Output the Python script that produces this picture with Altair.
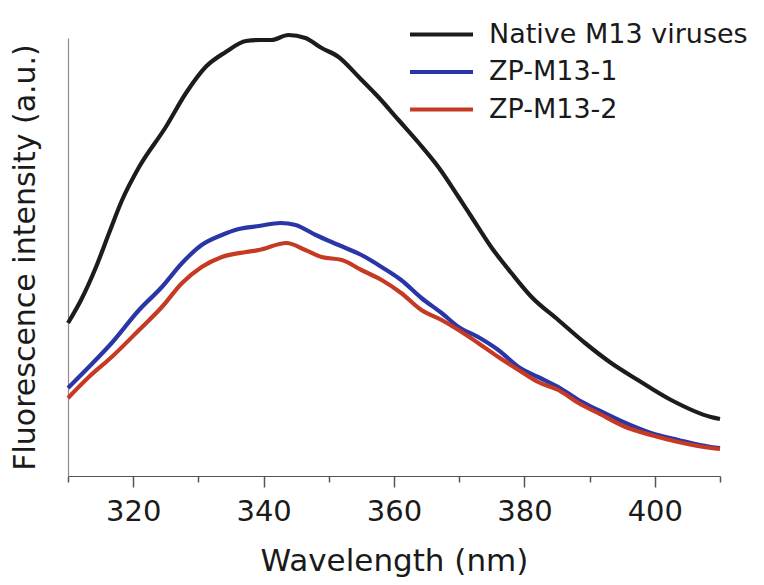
import altair as alt
import pandas as pd

# Wavelength (nm) and fluorescence intensity (a.u.)
native_wl = [310, 312, 314.3, 316.3, 318.3, 320.9, 325.0, 328.1, 331.1, 334.2, 337.3, 339.5,
             341.2, 343.8, 346.4, 348.9, 351.5, 354.6, 357.6, 360.7, 363.8, 366.8, 369.9,
             371.9, 374.9, 378.0, 381.1, 385.2, 389.3, 393.3, 397.4, 402.5, 408.6, 410]
native_int = [153, 176, 209, 243, 276, 309, 349, 383, 409, 424, 435, 436,
              436, 441, 438, 428, 419, 399, 379, 356, 333, 309, 279,
              259, 229, 203, 179, 156, 133, 113, 96, 76, 59, 57]

zp1_wl = [310, 313.2, 316.7, 320.9, 324.4, 327.5, 330.5, 333.6, 336.2, 339.3, 342.6, 344.9,
          348.0, 351.5, 355.0, 358.1, 361.1, 364.2, 367.3, 369.9, 372.9, 376.0, 379.1,
          382.1, 385.2, 388.3, 391.3, 395.5, 399.4, 403.6, 408.6, 410]
zp1_int = [88, 109, 133, 166, 189, 213, 231, 241, 247, 250, 253, 251,
           241, 231, 221, 209, 196, 178, 163, 149, 139, 126, 109,
           99, 89, 76, 66, 53, 43, 36, 29, 28]

zp2_wl = [310, 313.2, 316.7, 320.9, 324.4, 327.5, 330.5, 333.6, 337.3, 339.3, 343.5, 346.4,
          348.9, 352.0, 355.0, 358.1, 361.1, 364.2, 367.3, 369.9, 372.9, 376.0, 379.1,
          382.1, 385.2, 388.3, 391.3, 395.5, 399.4, 403.6, 408.6, 410]
zp2_int = [78, 99, 119, 146, 169, 193, 209, 219, 224, 226, 233, 226,
           219, 216, 206, 196, 183, 166, 156, 146, 133, 119, 106,
           94, 86, 73, 63, 49, 41, 34, 28, 27]

series_names = ["Native M13 viruses", "ZP-M13-1", "ZP-M13-2"]
series_colors = ["#1c1c1c", "#2b36a6", "#c63a24"]
x_ticks = [310, 320, 330, 340, 350, 360, 370, 380, 390, 400, 410]

rows = []
for name, wl, it in zip(series_names, [native_wl, zp1_wl, zp2_wl], [native_int, zp1_int, zp2_int]):
    for i, (w, v) in enumerate(zip(wl, it)):
        rows.append({"series": name, "wavelength": w, "intensity": v, "order": i})
df = pd.DataFrame(rows)

FONT = "DejaVu Sans"

chart = alt.Chart(df).mark_line(strokeWidth=4.2, interpolate="monotone").encode(
    x=alt.X("wavelength:Q",
            scale=alt.Scale(domain=[310, 410], nice=False, zero=False),
            axis=alt.Axis(values=x_ticks,
                          labelExpr="datum.value % 20 === 0 ? datum.label : ''",
                          title="Wavelength (nm)",
                          grid=False,
                          domainColor="#555555", domainWidth=1.2,
                          tickColor="#555555", tickWidth=1.5,
                          tickSize={"condition": {"test": "datum.value % 20 === 0", "value": 11}, "value": 6},
                          labelFont=FONT, labelFontSize=29, labelColor="#1a1a1a",
                          labelPadding=10,
                          titleFont=FONT, titleFontSize=31, titleFontWeight="normal",
                          titleColor="#1a1a1a", titlePadding=20)),
    y=alt.Y("intensity:Q",
            scale=alt.Scale(domain=[0, 438], nice=False),
            axis=alt.Axis(labels=False, ticks=False, grid=False,
                          domainColor="#9a8890", domainWidth=1.2,
                          title="Fluorescence intensity (a.u.)",
                          titleFont=FONT, titleFontSize=30, titleFontWeight="normal",
                          titleColor="#1a1a1a", titlePadding=28, titleLimit=0)),
    color=alt.Color("series:N",
                    scale=alt.Scale(domain=series_names, range=series_colors),
                    legend=alt.Legend(title=None, orient="none", legendX=340, legendY=-17,
                                      symbolType="stroke", symbolSize=3969, symbolStrokeWidth=4,
                                      labelFont=FONT, labelFontSize=27, labelColor="#1a1a1a",
                                      labelOffset=14, labelLimit=0, clipHeight=27,
                                      rowPadding=9.5, padding=0)),
    order="order:Q",
).properties(
    width=652, height=438,
    autosize=alt.AutoSizeParams(type="none"),
    padding={"left": 60, "top": 30, "right": 36, "bottom": 101},
).configure_view(stroke=None)

chart.save("out.html", embed_options={"renderer": "svg", "actions": False})
